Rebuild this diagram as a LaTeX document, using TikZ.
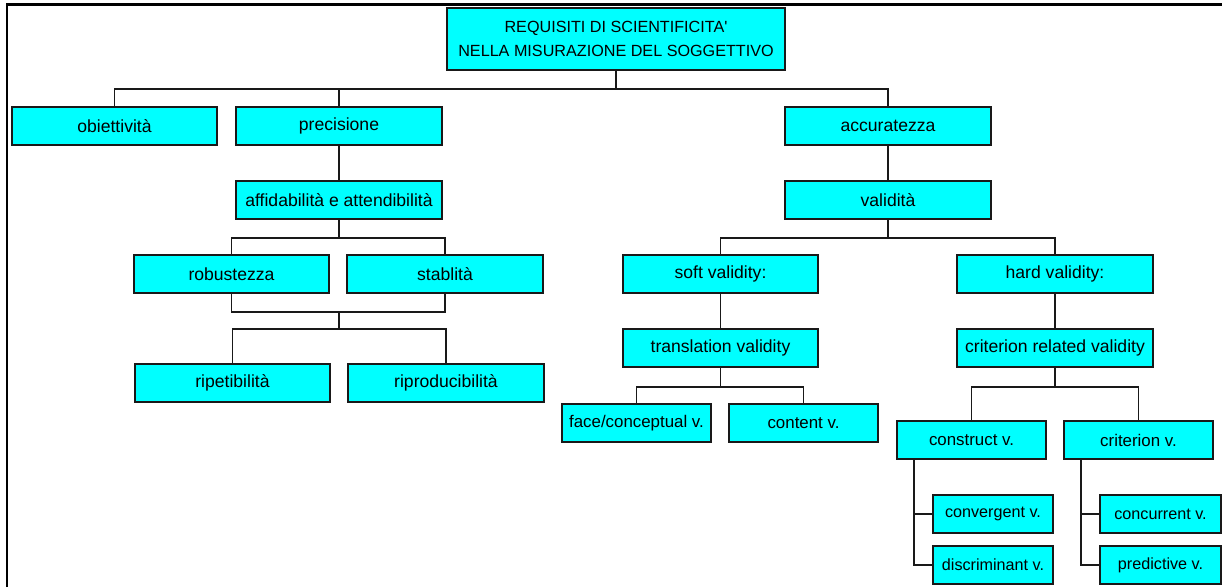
\documentclass[tikz,border=0pt]{standalone}
\usepackage{fontspec}
\setmainfont{Liberation Sans}
\usetikzlibrary{calc}
\definecolor{boxcyan}{RGB}{0,255,255}

\begin{document}
\begin{tikzpicture}[
  x=0.025cm, y=-0.025cm,
  block/.style={rectangle, draw=black!90, fill=boxcyan, line width=1.3pt,
                minimum width=5.15cm, minimum height=0.95cm, inner sep=0pt,
                align=center, font=\fontsize{12.5}{17}\selectfont},
  sblock/.style={block, minimum width=4.88cm},
  nblock/.style={block, minimum width=3.73cm, font=\fontsize{12}{17}\selectfont},
  tblock/.style={block, minimum width=3.01cm, font=\fontsize{11.5}{17}\selectfont},
  line/.style={line width=1.1pt, color=black!90}
]
  \useasboundingbox (0,0) rectangle (1222,587);
  % frame (left and top only)
  \draw[line width=2pt] (7,587) -- (7,4.7) -- (1222,4.7);
  % root
  \node[block, minimum width=8.45cm, minimum height=1.55cm,
        font=\fontsize{11.5}{17}\selectfont] (title) at (616,39)
        {REQUISITI DI SCIENTIFICITA\textquotesingle\\NELLA MISURAZIONE DEL SOGGETTIVO};
  % Row 1
  \node[block, minimum width=5.12cm] (obiet) at (114.5,126) {obiettività};
  \node[block] (precis) at (339,126) {precisione};
  \node[block] (accur)  at (888,126) {accuratezza};
  % Row 2
  \node[block] (affid) at (339,200) {affidabilità e attendibilità};
  \node[block] (valid) at (888,200) {validità};
  % Row 3
  \node[sblock] (robust) at (231.5,274) {robustezza};
  \node[sblock] (stabl)  at (445,274)   {stablità};
  \node[sblock] (soft)   at (720.5,274) {soft validity:};
  \node[sblock] (hard)   at (1055,274)  {hard validity:};
  % Row 4
  \node[sblock] (transl)  at (720.5,348) {translation validity};
  \node[sblock] (critrel) at (1055,348)  {criterion related validity};
  \node[sblock] (ripet)   at (232.5,383) {ripetibilità};
  \node[sblock] (riprod)  at (446,383)   {riproducibilità};
  % Leaves of the validity branch
  \node[nblock] (face)    at (636.5,423)  {face/conceptual v.};
  \node[nblock] (content) at (803.5,423)  {content v.};
  \node[nblock] (constr)  at (971.5,440)  {construct v.};
  \node[nblock] (criter)  at (1138.5,440) {criterion v.};
  \node[tblock] (conv)    at (993,514)    {convergent v.};
  \node[tblock] (discr)   at (993,565)    {discriminant v.};
  \node[tblock] (concur)  at (1160.5,514) {concurrent v.};
  \node[tblock] (predict) at (1160.5,565) {predictive v.};
  % root -> row 1
  \draw[line] (title.south) -- ++(0,18) coordinate (b0);
  \draw[line] (b0) -| (obiet.north); \draw[line] (b0) -| (precis.north);
  \draw[line] (b0) -| (accur.north);
  \draw[line] (precis) -- (affid); \draw[line] (accur) -- (valid);
  % precision branch
  \draw[line] (affid.south) -- ++(0,18) coordinate (b1);
  \draw[line] (b1) -| (robust.north); \draw[line] (b1) -| (stabl.north);
  \draw[line] (robust.south) -- ++(0,18) coordinate (j1) -| (stabl.south);
  \draw[line] (j1 -| affid.south) -- ++(0,17) coordinate (b2);
  \draw[line] (b2) -| (ripet.north); \draw[line] (b2) -| (riprod.north);
  % validity branch
  \draw[line] (valid.south) -- ++(0,18) coordinate (b3);
  \draw[line] (b3) -| (soft.north); \draw[line] (b3) -| (hard.north);
  \draw[line] (soft) -- (transl); \draw[line] (hard) -- (critrel);
  \draw[line] (transl.south) -- ++(0,19) coordinate (b4);
  \draw[line] (b4) -| (face.north); \draw[line] (b4) -| (content.north);
  \draw[line] (critrel.south) -- ++(0,19) coordinate (b5);
  \draw[line] (b5) -| (constr.north); \draw[line] (b5) -| (criter.north);
  % side spines
  \coordinate (s1) at ($(constr.south west)+(18,0)$);
  \coordinate (s2) at ($(criter.south west)+(18,0)$);
  \draw[line] (s1) |- (conv.west); \draw[line] (s1) |- (discr.west);
  \draw[line] (s2) |- (concur.west); \draw[line] (s2) |- (predict.west);
\end{tikzpicture}
\end{document}
